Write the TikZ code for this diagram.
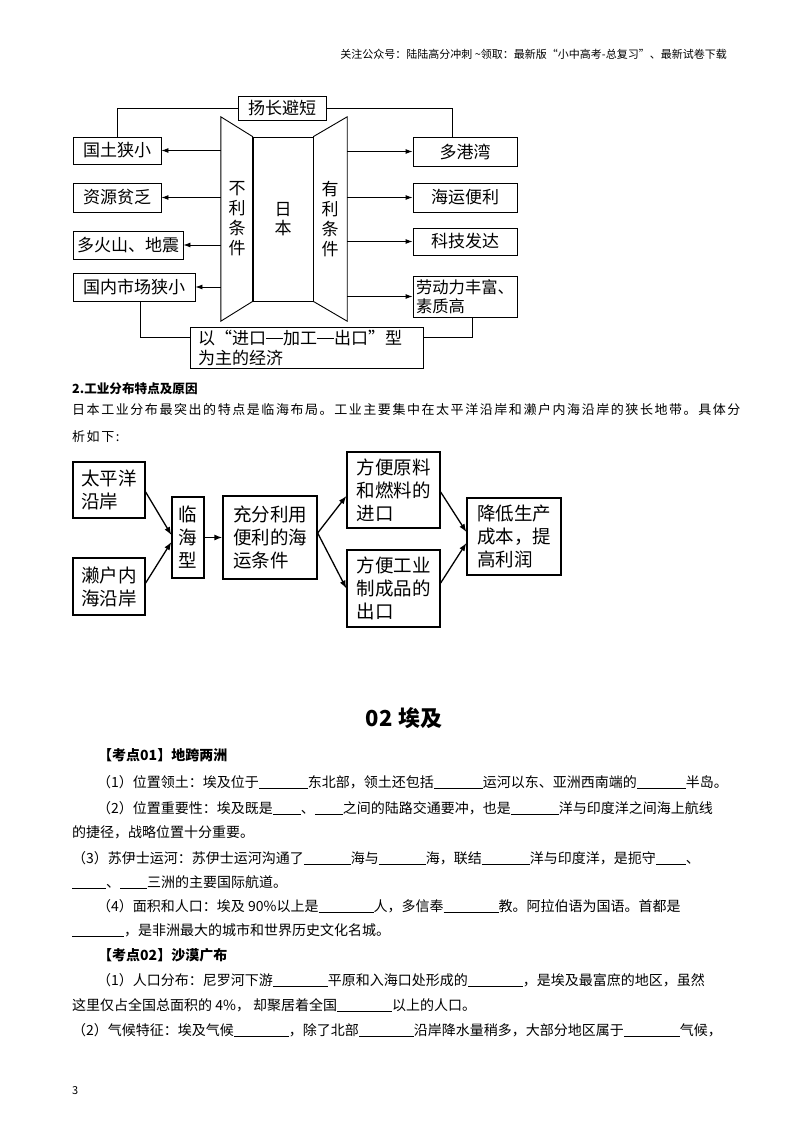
\documentclass[tikz,border=0pt]{standalone}
\usepackage{fontspec}
\setmainfont{Noto Sans CJK SC}
\newfontfamily\spfont{Noto Sans CJK SC}[LetterSpace=12]
\usetikzlibrary{arrows.meta, positioning}
\newcommand\fsz[1]{\fontsize{#1}{#1}\selectfont}
\newcommand\blank[1]{\rule[-1.5pt]{#1pt}{0.6pt}}
\newcommand\emdash{\rule[0.33em]{1em}{0.6pt}}

\begin{document}
\begin{tikzpicture}[
  x=1pt, y=-1pt,
  every node/.style={align=center, inner sep=0pt},
  box/.style={draw, line width=0.9pt, font=\fontsize{17}{20}\selectfont},
  bigbox/.style={draw, line width=1.3pt, font=\fontsize{18.5}{23}\selectfont, align=left},
  txt/.style={anchor=base west, font=\fsz{14}},
  head/.style={anchor=base west, font=\bfseries\fsz{14}},
  arr/.style={-{Latex[length=7pt, width=5pt]}, line width=0.9pt},
  arrb/.style={-{Latex[length=8pt, width=6pt]}, line width=1.3pt}
]
\fill[white] (0,0) rectangle (800,1132);
\useasboundingbox (0,0) rectangle (800,1132);

% Header
\node[anchor=base east, font=\fsz{11}] (hdr) at (727,59) {关注公众号：陆陆高分冲刺 \textasciitilde 领取：最新版“小中高考-总复习”、最新试卷下载};

% Nodes: Japan conditions
\node[box, minimum width=88pt, minimum height=24pt] (yc) at (282,108) {扬长避短};
\node[box, minimum width=88pt, minimum height=27pt] (gt) at (117,150.5) {国土狭小};
\node[box, minimum width=88pt, minimum height=29pt] (zy) at (117,197.5) {资源贫乏};
\node[box, minimum width=110pt, minimum height=28pt] (hs) at (128,245) {多火山、地震};
\node[box, minimum width=122pt, minimum height=28pt] (sc) at (134,287) {国内市场狭小};
\node[box, minimum width=104pt, minimum height=29pt] (dg) at (465,151.5) {多港湾};
\node[box, minimum width=104pt, minimum height=29pt] (hy) at (465,197.5) {海运便利};
\node[box, minimum width=104pt, minimum height=27pt] (kj) at (465,241.5) {科技发达};
\node[box, minimum width=104pt, minimum height=41pt, align=left, font=\fontsize{16.3}{19}\selectfont] (ld) at (465,296.5) {劳动力丰富、\\素质高};
\node[box, text width=217pt, inner xsep=8pt, minimum height=41pt, align=left] (jj) at (306.5,347.5) {以\makebox[1em][r]{“}进口\emdash 加工\emdash 出口\makebox[1em][l]{”}型\\为主的经济};

\node[minimum width=32pt, minimum height=204pt, font=\fontsize{17}{20}\selectfont] (bad) at (237,219) {不\\利\\条\\件};
\node[draw, line width=0.9pt, minimum width=60pt, minimum height=164pt, font=\fontsize{17}{19}\selectfont] (jp) at (283,219) {日\\本};
\node[minimum width=34pt, minimum height=204pt, font=\fontsize{17}{20}\selectfont] (good) at (330,219) {有\\利\\条\\件};
\draw[line width=0.9pt] (bad.north west) -- (jp.north west) -- (jp.south west) -- (bad.south west) -- cycle;
\draw[line width=0.9pt] (good.north east) -- (jp.north east) -- (jp.south east) -- (good.south east) -- cycle;

% Arrows
\foreach \b in {gt, zy, hs, sc}
  \draw[arr] (bad.west |- \b.east) -- (\b.east);
\foreach \b in {dg, hy, kj, ld}
  \draw[arr] (good.east |- \b.west) -- (\b.west);
\draw[line width=0.9pt] (yc.west) -| (gt.north);
\draw[line width=0.9pt] (yc.east) -| ([xshift=-13pt]dg.north);
\draw[line width=0.9pt] ([xshift=6pt]sc.south) |- ([yshift=10pt]jj.west);
\draw[line width=0.9pt] ([xshift=7pt]ld.south) |- ([yshift=10pt]jj.east);

% Text
\node[anchor=base west, font=\bfseries\fsz{12.6}] (t1) at (72,393) {2.工业分布特点及原因};
\node[anchor=base west, font=\spfont\fsz{13}] (t2) at (72,414) {日本工业分布最突出的特点是临海布局。工业主要集中在太平洋沿岸和濑户内海沿岸的狭长地带。具体分};
\node[anchor=base west, font=\spfont\fsz{13}] (t3) at (72,441) {析如下:};

% Nodes: industry layout
\node[bigbox, minimum width=72pt, minimum height=56pt] (tp) at (109,490) {太平洋\\沿岸};
\node[bigbox, minimum width=72pt, minimum height=57pt] (lh) at (109,586.5) {濑户内\\海沿岸};
\node[bigbox, minimum width=32pt, minimum height=81pt] (lx) at (188,537.5) {临\\海\\型};
\node[bigbox, minimum width=94pt, minimum height=83pt] (cf) at (270,537.5) {充分利用\\便利的海\\运条件};
\node[bigbox, minimum width=93pt, minimum height=76pt] (yl) at (393.5,490) {方便原料\\和燃料的\\进口};
\node[bigbox, minimum width=93pt, minimum height=77pt] (gy) at (393.5,588.5) {方便工业\\制成品的\\出口};
\node[bigbox, minimum width=94pt, minimum height=77pt] (jd) at (514,536.5) {降低生产\\成本，提\\高利润};

% Arrows
\draw[arrb] ([yshift=-2pt]tp.east) -- ([yshift=2.5pt]lx.west);
\draw[arrb] ([yshift=3.5pt]lh.east) -- ([yshift=-4.5pt]lx.west);
\draw[arrb] (lx.east) -- (cf.west);
\draw[arrb] ([yshift=4.5pt]cf.east) -- ([yshift=-6pt]yl.west);
\draw[arrb] ([yshift=4.5pt]cf.east) -- (gy.west);
\draw[arrb] ([yshift=-2pt]yl.east) -- ([yshift=4.5pt]jd.west);
\draw[arrb] ([yshift=5.5pt]gy.east) -- ([yshift=-6.5pt]jd.west);

% Egypt
\node[font=\bfseries\fsz{22}] (eg) at (404,718) {02\hspace{6pt}埃及};
\node[head] (k1) at (98,760) {【考点01】地跨两洲};
\node[txt] (l1) at (97,787) {（1）位置领土：埃及位于\blank{49}东北部，领土还包括\blank{49}运河以东、亚洲西南端的\blank{49}半岛。};
\node[txt] (l2) at (97,813) {（2）位置重要性：埃及既是\blank{28}、\blank{28}之间的陆路交通要冲，也是\blank{48}洋与印度洋之间海上航线};
\node[txt] (l3) at (72,837) {的捷径，战略位置十分重要。};
\node[txt] (l4) at (72,863) {（3）苏伊士运河：苏伊士运河沟通了\blank{47}海与\blank{47}海，联结\blank{48}洋与印度洋，是扼守\blank{30}、};
\node[txt] (l5) at (72,887) {\blank{34}、\blank{27}三洲的主要国际航道。};
\node[txt] (l6) at (97,911) {（4）面积和人口：埃及 90\%以上是\blank{55}人，多信奉\blank{55}教。阿拉伯语为国语。首都是};
\node[txt] (l7) at (72,935) {\blank{52}，是非洲最大的城市和世界历史文化名城。};
\node[head] (k2) at (98,960) {【考点02】沙漠广布};
\node[txt] (l8) at (97,985) {（1）人口分布：尼罗河下游\blank{55}平原和入海口处形成的\blank{55}，是埃及最富庶的地区，虽然};
\node[txt] (l9) at (72,1010) {这里仅占全国总面积的 4\%， 却聚居着全国\blank{55}以上的人口。};
\node[txt] (l10) at (72,1035) {（2）气候特征：埃及气候\blank{55}，除了北部\blank{55}沿岸降水量稍多，大部分地区属于\blank{56}气候，};

\node[anchor=base west, font=\fsz{11}] (pg) at (72,1094) {3};
\end{tikzpicture}
\end{document}
